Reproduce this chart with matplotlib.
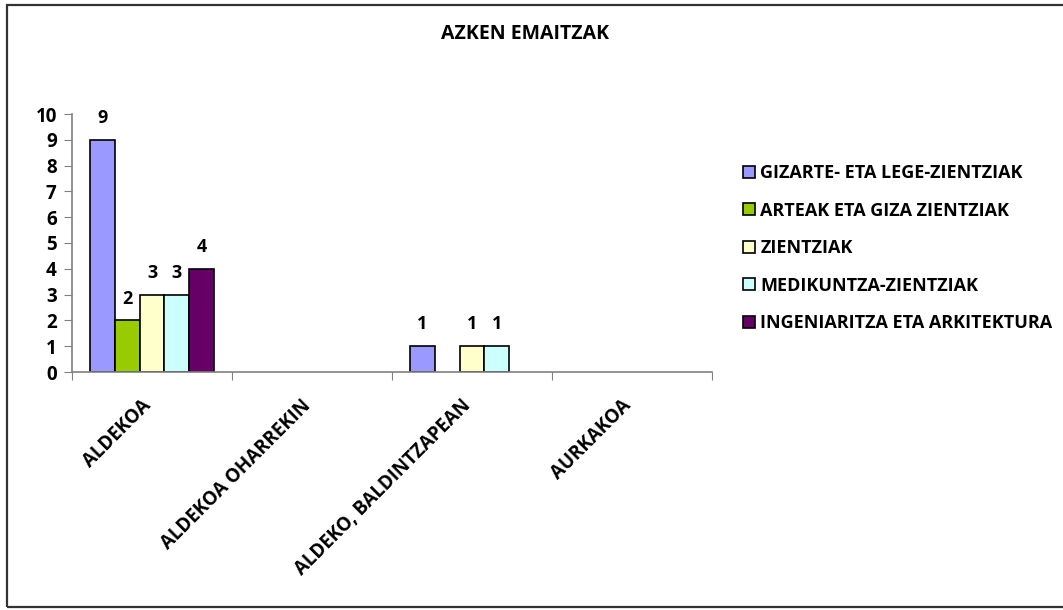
import numpy as np
import matplotlib.pyplot as plt
import matplotlib.transforms as mtransforms
from matplotlib.patches import Rectangle

plt.rcParams['font.family'] = ['Open Sans', 'DejaVu Sans']
plt.rcParams['font.weight'] = 'bold'

categories = ["ALDEKOA", "ALDEKOA OHARREKIN", "ALDEKO, BALDINTZAPEAN", "AURKAKOA"]
series_names = [
    "GIZARTE- ETA LEGE-ZIENTZIAK",
    "ARTEAK ETA GIZA ZIENTZIAK",
    "ZIENTZIAK",
    "MEDIKUNTZA-ZIENTZIAK",
    "INGENIARITZA ETA ARKITEKTURA",
]
gizarte = [9, 0, 1, 0]
arteak = [2, 0, 0, 0]
zientziak = [3, 0, 1, 0]
medikuntza = [3, 0, 1, 0]
ingeniaritza = [4, 0, 0, 0]
colors = ["#9999ff", "#99cc00", "#ffffcc", "#ccffff", "#660066"]

values = [gizarte, arteak, zientziak, medikuntza, ingeniaritza]

fig = plt.figure(figsize=(10.63, 6.10), dpi=100)
fig.patches.append(Rectangle((7 / 1063, 1 - 607 / 610), 1.2, 602 / 610,
                             transform=fig.transFigure, fill=False,
                             edgecolor="#333333", linewidth=1.6))

ax = fig.add_axes([72 / 1063, 1 - 372 / 610, 640 / 1063, 258 / 610])
x = np.arange(len(categories))
w = 0.156
for i, (vals, name, c) in enumerate(zip(values, series_names, colors)):
    pos = x + (i - 2) * w
    vals = np.array(vals)
    mask = vals > 0
    ax.bar(pos[mask], vals[mask], width=w, color=c, edgecolor="black",
           linewidth=1.2, label=name)
    for p, v in zip(pos[mask], vals[mask]):
        ax.text(p, v + 0.5, str(v), ha="center", va="bottom",
                fontsize=13, fontweight="bold")

ax.set_xlim(-0.5, 3.5)
ax.set_ylim(0, 10)
ax.set_yticks(range(0, 11))
ax.set_xticks(np.arange(-0.5, 4, 1))
ax.set_xticklabels([])
ax.set_xticks(x, minor=True)
ax.set_xticklabels(categories, minor=True, rotation=45, ha="right", va="top",
                   rotation_mode="anchor", fontsize=13.5, fontweight="bold")
ax.tick_params(axis="x", which="minor", length=0, pad=17)
ax.tick_params(axis="x", which="major", length=6, color="#808080")
ax.tick_params(axis="y", length=6, color="#808080", labelsize=13.5, pad=5)
# shift the rotated labels a little to the left, like the original
shift = mtransforms.ScaledTranslation(-11 / 100, 0, fig.dpi_scale_trans)
for lbl in ax.get_xticklabels(minor=True):
    lbl.set_transform(lbl.get_transform() + shift)
for s in ["top", "right"]:
    ax.spines[s].set_visible(False)
for s in ["left", "bottom"]:
    ax.spines[s].set_color("#808080")
    ax.spines[s].set_linewidth(1.2)

fig.text(525 / 1063, 1 - 34 / 610, "AZKEN EMAITZAK", ha="center", va="center",
         fontsize=14, fontweight="bold")

ax.legend(loc="upper left", bbox_to_anchor=(736 / 1063, 1 - 157 / 610),
          bbox_transform=fig.transFigure, frameon=False, fontsize=13,
          handlelength=0.65, handleheight=0.65, handletextpad=0.3,
          labelspacing=1.08, borderaxespad=0)

fig.savefig("out.png", dpi=100)
